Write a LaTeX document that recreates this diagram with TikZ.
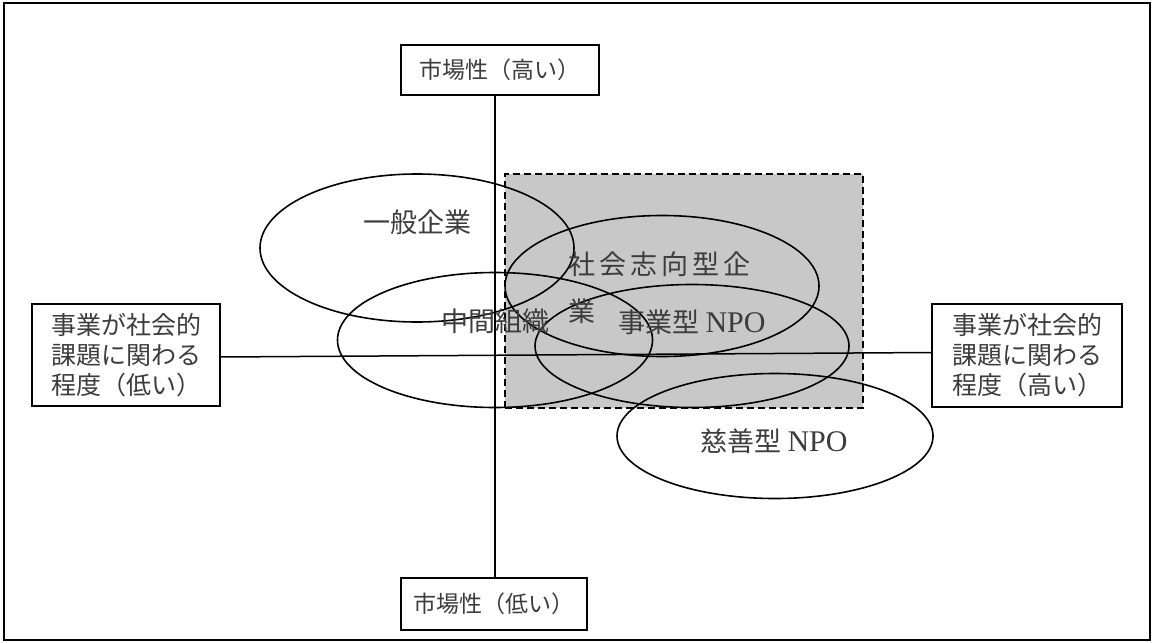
\documentclass[tikz,border=0pt]{standalone}
\usepackage{fontspec}
\setmainfont{Liberation Serif}
\newfontfamily\jp{Noto Sans CJK JP}
\usetikzlibrary{calc,shapes.geometric}
\definecolor{shade}{RGB}{200,200,200}
\definecolor{txt}{RGB}{60,60,60}
\newcommand{\ls}{\hspace{4pt}}
\newcommand{\npo}{{\rmfamily\fontsize{30}{47}\selectfont NPO}}
\begin{document}
\begin{tikzpicture}[x=1pt,y=-1pt,
  frame/.style={draw=black,line width=1.6pt},
  zonebox/.style={draw=black,line width=1.3pt,dash pattern=on 7pt off 4pt,fill=shade,inner sep=0pt,outer sep=0pt},
  oval/.style={ellipse,draw=black,line width=1.6pt,inner sep=0pt,outer sep=0pt},
  axis/.style={draw=black,line width=1.5pt},
  labelbox/.style={draw=black,line width=1.6pt,fill=white,inner sep=0pt,outer sep=0pt,text=txt,font=\jp\fontsize{23}{26}\selectfont},
  sidebox/.style={draw=black,line width=1.6pt,fill=white,inner xsep=14pt,inner ysep=0pt,outer sep=0pt,text=txt,align=left,anchor=center,font=\jp\fontsize{25}{30}\selectfont},
  ovaltext/.style={text=txt,inner sep=0pt,font=\jp\fontsize{27}{47}\selectfont}
]
\useasboundingbox (0,0) rectangle (1155,642);
\draw[frame] (4,3) rectangle (1150,640);

% shaded zone
\node[zonebox,minimum width=358,minimum height=234] (zone) at (684,291) {};

% boxes
\node[labelbox,minimum width=198,minimum height=50] (top) at (500,70) {市場性（高い）};
\node[labelbox,minimum width=186,minimum height=52] (bot) at (494,604) {市場性（低い）};
\node[sidebox,minimum width=188,minimum height=102] (left) at (126,355) {事業が社会的\\課題に関わる\\程度（低い）};
\node[sidebox,minimum width=190,minimum height=103] (right) at (1027,355.5) {事業が社会的\\課題に関わる\\程度（高い）};

% axes
\coordinate (vx) at (495,0);
\draw[axis] (top.south -| vx) -- (bot.north -| vx);
\draw[axis] ($(left.east)+(0,2)$) -- ($(right.west)+(0,-3)$);

% ellipses
\node[oval,minimum width=314,minimum height=148] (e1) at (417,248) {};
\node[oval,minimum width=314,minimum height=141] (e2) at (662,286) {};
\node[oval,minimum width=314,minimum height=123] (e3) at (692,346) {};
\node[oval,minimum width=315,minimum height=135] (e4) at (495,340) {};
\node[oval,minimum width=316,minimum height=125] (e5) at (775,436) {};

% texts
\node[ovaltext] (t1) at (417,222) {一般企業};
\node[ovaltext,align=left,anchor=west] (t2) at (568,287.5) {社\ls 会\ls 志\ls 向\ls 型\ls 企\\業};
\node[ovaltext] (t4) at (495,321) {中間組織};
\node[ovaltext] (t3) at (692,322) {事業型~\npo};
\node[ovaltext] (t5) at (774,441) {慈善型~\npo};
\end{tikzpicture}
\end{document}
